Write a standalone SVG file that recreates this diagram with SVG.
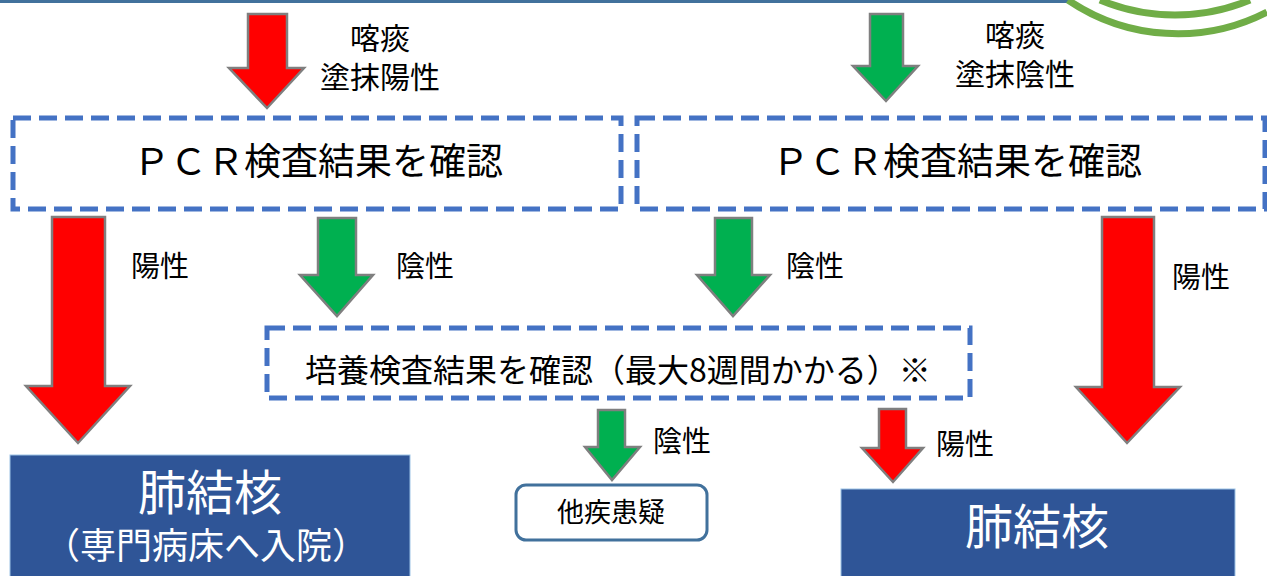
<svg xmlns="http://www.w3.org/2000/svg" width="1267" height="576" viewBox="0 0 1267 576">
<style>
text{font-family:"Noto Sans CJK JP","Noto Sans",sans-serif;fill:#000}
.lbl{font-size:29px}
.big{font-size:30px}
.dash{fill:#fff;stroke:#4472C4;stroke-width:5;stroke-dasharray:18 8}
.red{fill:#FF0000;stroke:#7F7F7F;stroke-width:2.5;stroke-linejoin:miter}
.green{fill:#00B050;stroke:#7F7F7F;stroke-width:2.5}
.tb{fill:#2F5597;stroke:#9DC3E6;stroke-width:1}
.wt{fill:#fff;text-anchor:middle}
.mid{text-anchor:middle}
</style>
<rect width="1267" height="576" fill="#fff"/>
<g id="header">
<line x1="0" y1="1.5" x2="1070" y2="1.5" stroke="#41719C" stroke-width="3"/>
<path d="M1100,0 A195,195 0 0 0 1250,0" fill="none" stroke="#70AD47" stroke-width="7"/>
<path d="M1068,0 A195,195 0 0 0 1267,12" fill="none" stroke="#70AD47" stroke-width="7"/>
</g>
<g id="connectors">
<polygon class="red" points="248,14 287,14 287,68 304,68 267,108 229,68 248,68"/>
<polygon class="green" points="870,14 903,14 903,66 918,66 886,101 853,66 870,66"/>
<polygon class="red" points="52,217 105,217 105,386 130,386 78,443 26,386 52,386"/>
<polygon class="green" points="318,218 356,218 356,275 373,275 337,316 300,275 318,275"/>
<polygon class="green" points="715,218 752,218 752,275 770,275 733,316 697,275 715,275"/>
<polygon class="red" points="1102,217 1154,217 1154,387 1180,387 1127,443 1076,387 1102,387"/>
<polygon class="green" points="598,410 625,410 625,447 640,447 612,480 585,447 598,447"/>
<polygon class="red" points="879,409 906,409 906,448 923,448 893,482 862,448 879,448"/>
<text class="big mid" x="380" y="49">喀痰</text>
<text class="big mid" x="380" y="88">塗抹陽性</text>
<text class="big mid" x="1015" y="46">喀痰</text>
<text class="big mid" x="1015" y="85">塗抹陰性</text>
<text class="lbl mid" x="160" y="277">陽性</text>
<text class="lbl mid" x="425" y="277">陰性</text>
<text class="lbl mid" x="815" y="277">陰性</text>
<text class="lbl mid" x="1201" y="288">陽性</text>
<text class="lbl mid" x="682" y="452">陰性</text>
<text class="lbl mid" x="965" y="455">陽性</text>
</g>
<g id="pcr1">
<rect class="dash" x="13" y="118" width="608" height="91"/>
<text class="mid" x="318" y="175" font-size="37">ＰＣＲ検査結果を確認</text>
</g>
<g id="pcr2">
<rect class="dash" x="637" y="118" width="628" height="91"/>
<text class="mid" x="957" y="175" font-size="37">ＰＣＲ検査結果を確認</text>
</g>
<g id="culture">
<rect class="dash" x="267" y="328" width="703" height="70"/>
<text x="305" y="382" font-size="32">培養検査結果を確認（最大8週間かかる）※</text>
</g>
<g id="other">
<rect x="516" y="485" width="191" height="55" rx="10" fill="#fff" stroke="#41719C" stroke-width="3"/>
<text class="mid" x="611" y="522" font-size="27">他疾患疑</text>
</g>
<g id="tb1">
<rect class="tb" x="10" y="455" width="400" height="125"/>
<text class="wt" x="210" y="510" font-size="48">肺結核</text>
<text class="wt" x="206" y="559" font-size="36">（専門病床へ入院）</text>
</g>
<g id="tb2">
<rect class="tb" x="841" y="489" width="394" height="90"/>
<text class="wt" x="1037" y="544" font-size="48">肺結核</text>
</g>
</svg>
